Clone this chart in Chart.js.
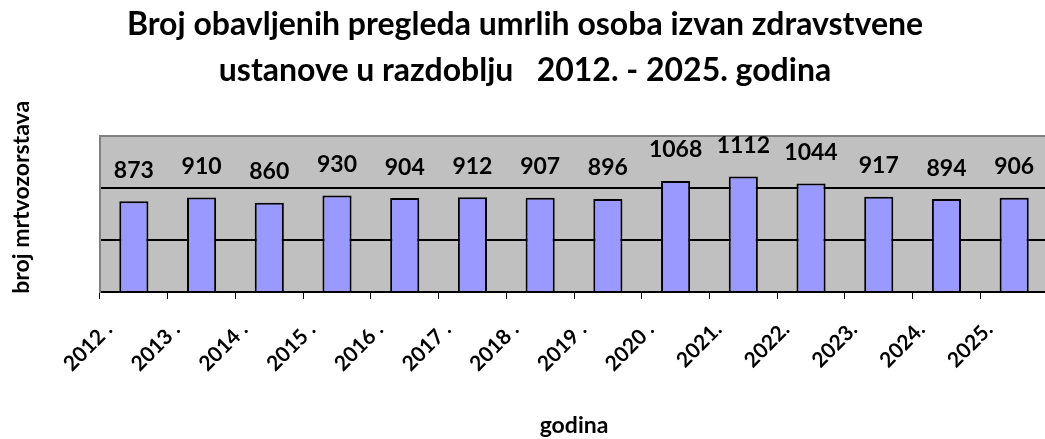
<!DOCTYPE html>
<html>
<head>
<meta charset="utf-8">
<script src="https://cdn.jsdelivr.net/npm/chart.js@4/dist/chart.umd.min.js"></script>
<style>
  html, body { margin: 0; padding: 0; background: #fff; overflow: hidden; }
  canvas { display: block; }
</style>
</head>
<body>
<canvas id="myChart" width="1050" height="439"></canvas>
<script>
// data
var years = ["2012 .", "2013 .", "2014 .", "2015 .", "2016 .", "2017 .", "2018 .", "2019 .", "2020 .",
             "2021.", "2022.", "2023.", "2024.", "2025."];
var pregledi = [873, 910, 860, 930, 904, 912, 907, 896, 1068, 1112, 1044, 917, 894, 906];
var titleLines = ["Broj obavljenih pregleda umrlih osoba izvan zdravstvene",
                  "ustanove u razdoblju   2012. - 2025. godina"];
var yTitle = "broj mrtvozorstava";
var xTitle = "godina";

var FONT = "Lato, 'Open Sans', sans-serif";

// grey plot area like the spreadsheet chart
var plotBackground = {
  id: "plotBackground",
  beforeDraw: function (chart) {
    var a = chart.chartArea, ctx = chart.ctx;
    ctx.save();
    ctx.fillStyle = "#c0c0c0";
    ctx.fillRect(a.left, a.top, a.right - a.left, a.bottom - a.top);
    ctx.restore();
  }
};

// value labels above the bars
var valueLabels = {
  id: "valueLabels",
  afterDatasetsDraw: function (chart) {
    var ctx = chart.ctx;
    var meta = chart.getDatasetMeta(0);
    ctx.save();
    ctx.font = "bold 23px " + FONT;
    ctx.fillStyle = "#000";
    ctx.textAlign = "center";
    ctx.textBaseline = "middle";
    meta.data.forEach(function (bar, i) {
      ctx.fillText(chart.data.datasets[0].data[i], bar.x, bar.y - 31);
    });
    ctx.restore();
  }
};

new Chart("myChart", {
  type: "bar",
  data: {
    labels: years,
    datasets: [{
      data: pregledi,
      backgroundColor: "#9999ff",
      borderColor: "#000",
      borderWidth: 2,
      barPercentage: 0.43,
      categoryPercentage: 1
    }]
  },
  options: {
    responsive: false,
    animation: false,
    layout: { padding: 0 },
    plugins: {
      legend: { display: false },
      tooltip: { enabled: false },
      title: {
        display: true,
        text: titleLines,
        color: "#000",
        font: { family: FONT, size: 32, weight: "bold", lineHeight: 1.44 },
        padding: { top: 2, bottom: 42 }
      }
    },
    scales: {
      x: {
        grid: { offset: true, drawOnChartArea: false, color: "#000", tickLength: 7, tickWidth: 1 },
        border: { color: "#000", width: 2 },
        ticks: {
          color: "#000",
          font: { family: FONT, size: 21, weight: "bold" },
          minRotation: 45, maxRotation: 45,
          labelOffset: -25,
          padding: 18,
          autoSkip: false
        },
        title: {
          display: true,
          text: xTitle,
          color: "#000",
          font: { family: FONT, size: 23, weight: "bold", lineHeight: 1.13 },
          padding: 0
        },
        afterFit: function (scale) { scale.height = 147; }
      },
      y: {
        min: 0,
        max: 1500,
        ticks: { display: false, stepSize: 500 },
        grid: {
          drawTicks: false,
          lineWidth: 2,
          color: function (c) { return c.tick && c.tick.value === 1500 ? "#808080" : "#000"; }
        },
        border: { color: "#808080", width: 2 },
        title: {
          display: true,
          text: "      " + yTitle,
          color: "#000",
          font: { family: FONT, size: 23, weight: "bold" },
          padding: { top: 8, bottom: 0 }
        },
        afterFit: function (scale) { scale.width = 100; }
      }
    }
  },
  plugins: [plotBackground, valueLabels]
});
</script>
</body>
</html>
